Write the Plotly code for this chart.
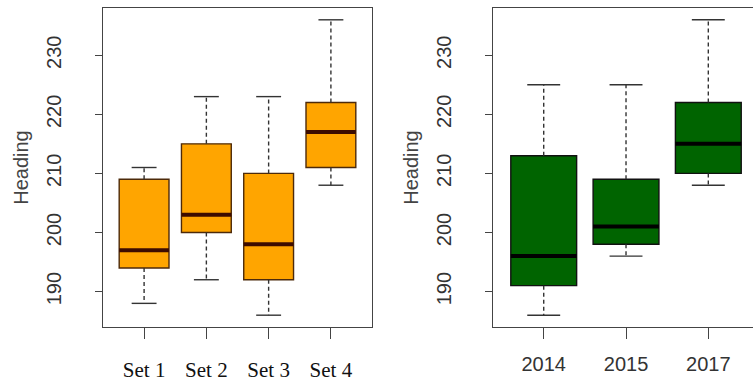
import plotly.graph_objects as go

# ---- data ----
sets = ["Set 1", "Set 2", "Set 3", "Set 4"]
set_lower = [188, 192, 186, 208]
set_q1 = [194, 200, 192, 211]
set_median = [197, 203, 198, 217]
set_q3 = [209, 215, 210, 222]
set_upper = [211, 223, 223, 236]

years = ["2014", "2015", "2017"]
yr_lower = [186, 196, 208]
yr_q1 = [191, 198, 210]
yr_median = [196, 201, 215]
yr_q3 = [213, 209, 222]
yr_upper = [225, 225, 236]

y_ticks = [190, 200, 210, 220, 230]

W, H = 753, 383
fig = go.Figure()


def add_panel(labels, lo, q1, med, q3, up, fill, border, medcol, xa, ya):
    pos = list(range(1, len(labels) + 1))
    fig.add_trace(go.Box(
        x=pos, q1=q1, median=med, q3=q3, lowerfence=q1, upperfence=q3,
        width=0.8, fillcolor=fill, line=dict(color=border, width=1.4),
        whiskerwidth=0, boxpoints=False, xaxis=xa, yaxis=ya,
        hoverinfo="skip", showlegend=False))
    wx, wy, sx, sy, mx, my = [], [], [], [], [], []
    for i, p in enumerate(pos):
        wx += [p, p, None, p, p, None]
        wy += [q3[i], up[i], None, q1[i], lo[i], None]
        sx += [p - 0.2, p + 0.2, None, p - 0.2, p + 0.2, None]
        sy += [up[i], up[i], None, lo[i], lo[i], None]
        mx += [p - 0.4, p + 0.4, None]
        my += [med[i], med[i], None]
    fig.add_trace(go.Scatter(x=wx, y=wy, mode="lines", xaxis=xa, yaxis=ya,
                             line=dict(color="#333333", width=1.4, dash="4px,3px"),
                             hoverinfo="skip", showlegend=False))
    fig.add_trace(go.Scatter(x=sx, y=sy, mode="lines", xaxis=xa, yaxis=ya,
                             line=dict(color="#333333", width=1.4),
                             hoverinfo="skip", showlegend=False))
    fig.add_trace(go.Scatter(x=mx, y=my, mode="lines", xaxis=xa, yaxis=ya,
                             line=dict(color=medcol, width=4),
                             hoverinfo="skip", showlegend=False))


add_panel(sets, set_lower, set_q1, set_median, set_q3, set_upper,
          "#FFA500", "#4d2a0a", "#3d0c00", "x", "y")
add_panel(years, yr_lower, yr_q1, yr_median, yr_q3, yr_upper,
          "#006400", "#111111", "#000000", "x2", "y2")

axis_col = "#444444"
sans = "Liberation Sans, Arial, sans-serif"
serif = "Liberation Serif, Times New Roman, serif"

yax = dict(range=[184, 238], tickvals=y_ticks, tickangle=-90, ticks="outside",
           ticklen=7, tickcolor=axis_col, showgrid=False, zeroline=False,
           showline=True, linecolor=axis_col, linewidth=1.3,
           tickfont=dict(family=sans, size=20, color="#333333"),
           ticklabelstandoff=26,
           title=dict(text="Heading", font=dict(family=sans, size=20, color="#444444"),
                      standoff=8))

fig.update_layout(
    width=W, height=H, margin=dict(l=0, r=0, t=8, b=56),
    paper_bgcolor="white", plot_bgcolor="white",
    xaxis=dict(domain=[103 / W, 372 / W], range=[0.34, 4.66],
               tickvals=[1, 2, 3, 4], ticktext=sets, ticks="outside", ticklen=11,
               tickcolor=axis_col, showgrid=False, zeroline=False,
               showline=True, mirror=True, linecolor=axis_col, linewidth=1.3,
               tickfont=dict(family=serif, size=21, color="#111111"),
               ticklabelstandoff=13),
    yaxis=dict(**yax, anchor="x", mirror=True),
    xaxis2=dict(domain=[492.7 / W, 1.0], range=[0.38, 3.543],
                tickvals=[1, 2, 3], ticktext=years, ticks="outside", ticklen=11,
                tickcolor=axis_col, showgrid=False, zeroline=False,
                showline=True, mirror=True, linecolor=axis_col, linewidth=1.3,
                tickfont=dict(family=sans, size=20, color="#333333"),
                ticklabelstandoff=8, anchor="y2"),
    yaxis2=dict(**yax, anchor="x2"),
)

fig.write_html("out.html")
